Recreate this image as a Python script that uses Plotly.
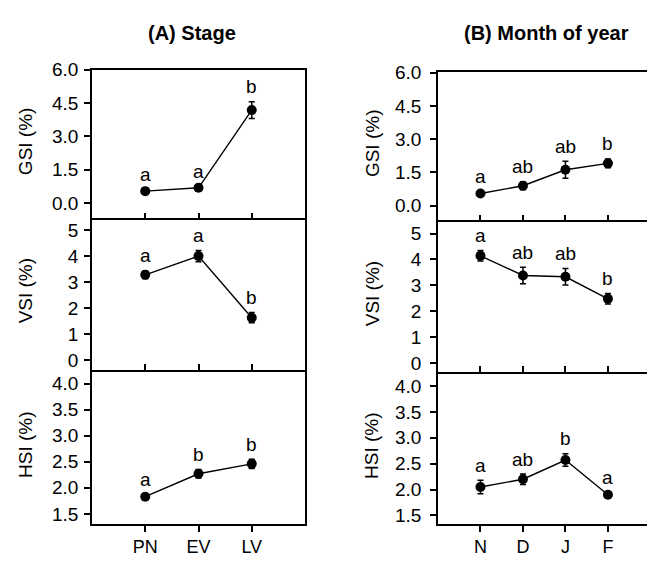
import plotly.graph_objects as go

W, H = 647, 562
FONT = "Liberation Sans, Arial, sans-serif"

# ---- data ----
stage_cats = ["PN", "EV", "LV"]
month_cats = ["N", "D", "J", "F"]

stage_gsi = [0.53, 0.68, 4.18]
stage_gsi_err = [0.06, 0.08, 0.38]
stage_gsi_lbl = ["a", "a", "b"]

stage_vsi = [3.28, 4.00, 1.63]
stage_vsi_err = [0.15, 0.22, 0.20]
stage_vsi_lbl = ["a", "a", "b"]

stage_hsi = [1.83, 2.27, 2.46]
stage_hsi_err = [0.05, 0.08, 0.09]
stage_hsi_lbl = ["a", "b", "b"]

month_gsi = [0.55, 0.90, 1.62, 1.91]
month_gsi_err = [0.07, 0.18, 0.38, 0.20]
month_gsi_lbl = ["a", "ab", "ab", "b"]

month_vsi = [4.14, 3.38, 3.33, 2.48]
month_vsi_err = [0.20, 0.32, 0.32, 0.20]
month_vsi_lbl = ["a", "ab", "ab", "b"]

month_hsi = [2.05, 2.20, 2.57, 1.90]
month_hsi_err = [0.13, 0.10, 0.12, 0.04]
month_hsi_lbl = ["a", "ab", "b", "a"]

gsi_ticks = [0.0, 1.5, 3.0, 4.5, 6.0]
vsi_ticks = [0, 1, 2, 3, 4, 5]
hsi_ticks = [1.5, 2.0, 2.5, 3.0, 3.5, 4.0]

# ---- layout helpers (pixel boxes) ----
def px_dom_x(a, b):
    return [a / W, min(b / W, 1.0)]

def px_dom_y(top, bot):
    return [(H - bot) / H, (H - top) / H]

panels = [
    # col, row, cats, vals, errs, lbls, ylabel, ticks, fmt, yrange, xbox, ybox, xr
    (0, 0, stage_cats, stage_gsi, stage_gsi_err, stage_gsi_lbl, "GSI (%)", gsi_ticks, ".1f", [-0.70, 6.0], (92, 305), (61, 213), [-1, 3]),
    (0, 1, stage_cats, stage_vsi, stage_vsi_err, stage_vsi_lbl, "VSI (%)", vsi_ticks, "d", [-0.39, 5.45], (92, 305), (213, 368), [-1, 3]),
    (0, 2, stage_cats, stage_hsi, stage_hsi_err, stage_hsi_lbl, "HSI (%)", hsi_ticks, ".1f", [1.31, 4.22], (92, 305), (370, 525), [-1, 3]),
    (1, 0, month_cats, month_gsi, month_gsi_err, month_gsi_lbl, "GSI (%)", gsi_ticks, ".1f", [-0.66, 6.04], (438, 647), (63, 215), [-1, 3.92]),
    (1, 1, month_cats, month_vsi, month_vsi_err, month_vsi_lbl, "VSI (%)", vsi_ticks, "d", [-0.35, 5.43], (438, 647), (217, 370), [-1, 3.92]),
    (1, 2, month_cats, month_hsi, month_hsi_err, month_hsi_lbl, "HSI (%)", hsi_ticks, ".1f", [1.34, 4.23], (438, 647), (372, 525), [-1, 3.92]),
]

fig = go.Figure()
layout = dict(
    width=W, height=H,
    margin=dict(l=0, r=0, t=0, b=0),
    paper_bgcolor="white", plot_bgcolor="white",
    showlegend=False,
    font=dict(family=FONT, color="black"),
)
annotations = []

for i, (col, row, cats, vals, errs, lbls, ylabel, ticks, fmt, yr, xbox, ybox, xr) in enumerate(panels):
    n = i + 1
    xa = "x" if n == 1 else f"x{n}"
    ya = "y" if n == 1 else f"y{n}"
    xkey = "xaxis" if n == 1 else f"xaxis{n}"
    ykey = "yaxis" if n == 1 else f"yaxis{n}"

    fig.add_trace(go.Scatter(
        x=cats, y=vals, xaxis=xa, yaxis=ya,
        mode="lines+markers",
        line=dict(color="black", width=1.4),
        marker=dict(color="black", size=10),
        error_y=dict(type="data", array=errs, visible=True, color="black", thickness=1.5, width=3),
        cliponaxis=False,
    ))

    bottom = (row == 2)
    layout[xkey] = dict(
        domain=px_dom_x(*xbox), anchor=ya,
        type="category", categoryorder="array", categoryarray=cats,
        range=xr, showgrid=False, zeroline=False,
        showline=True, linecolor="black", linewidth=1.6, mirror=(row == 0),
        ticks="outside" if bottom else "inside", ticklen=6, tickwidth=1.5, tickcolor="black",
        showticklabels=bottom,
        tickfont=dict(family=FONT, size=18, color="black"),
    )
    layout[ykey] = dict(
        domain=px_dom_y(*ybox), anchor=xa,
        range=yr, showgrid=False, zeroline=False,
        showline=True, linecolor="black", linewidth=1.6, mirror=(col == 0),
        ticks="outside", ticklen=6, tickwidth=1.5, tickcolor="black",
        tickmode="array", tickvals=ticks,
        ticktext=[format(t, fmt) if fmt != "d" else str(int(t)) for t in ticks],
        tickfont=dict(family=FONT, size=19, color="black"),
        ticklabelstandoff=2 if col == 0 else 5,
    )

    for c, v, e, l in zip(cats, vals, errs, lbls):
        annotations.append(dict(
            x=c, y=v + e, xref=xa, yref=ya, text=l, showarrow=False,
            yanchor="middle", yshift=15,
            font=dict(family=FONT, size=19, color="black"),
        ))

    # y axis title
    tx = 25 if col == 0 else 372
    ty = (ybox[0] + ybox[1]) / 2 - 3
    annotations.append(dict(
        x=tx / W, y=(H - ty) / H, xref="paper", yref="paper",
        text=ylabel, textangle=-90, showarrow=False,
        xanchor="center", yanchor="middle",
        font=dict(family=FONT, size=19, color="black"),
    ))

col_titles = ["<b>(A) Stage</b>", "<b>(B) Month of year</b>"]
for t, cx in zip(col_titles, [192, 546]):
    annotations.append(dict(
        x=cx / W, y=(H - 24) / H, xref="paper", yref="paper",
        text=t, showarrow=False, xanchor="center", yanchor="middle",
        font=dict(family=FONT, size=20, color="black"),
    ))

layout["annotations"] = annotations
fig.update_layout(**layout)
fig.write_html("out.html")
